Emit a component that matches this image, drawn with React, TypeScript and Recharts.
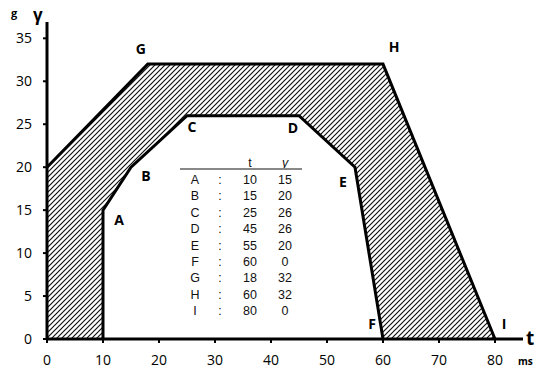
import { ComposedChart, Area, Scatter, XAxis, YAxis } from "recharts";

// corner points, as listed in the table on the chart
const pointNames = ["A", "B", "C", "D", "E", "F", "G", "H", "I"];
const tValues = [10, 15, 25, 45, 55, 60, 18, 60, 80];
const gammaValues = [15, 20, 26, 26, 20, 0, 32, 32, 0];

// unlabelled corners where the two outlines start
const outerStart = { t: 0, g: 20 };
const innerStart = { t: 10, g: 0 };
const outerNames = ["G", "H", "I"];
const innerNames = ["A", "B", "C", "D", "E", "F"];

const xTicks = [0, 10, 20, 30, 40, 50, 60, 70, 80];
const yTicks = [0, 5, 10, 15, 20, 25, 30, 35];

const points = pointNames.map((name, i) => ({ name, t: tValues[i], g: gammaValues[i] }));
const byName = (n: string) => points.find((p) => p.name === n)!;
const outerData = [outerStart, ...outerNames.map(byName)];
const innerData = [innerStart, ...innerNames.map(byName)];

// where each letter sits relative to its corner
const labelOffset: Record<string, [number, number]> = {
  A: [16, 9],
  B: [15, 8],
  C: [5, 11],
  D: [-6, 12],
  E: [-12, 14],
  F: [-11, -16],
  G: [-7, -16],
  H: [11, -18],
  I: [9, -16],
};

const font = "'Open Sans', sans-serif";
const tableFont = "'Liberation Sans', Arial, sans-serif";

const PointLabel = (props: any) => {
  const { cx, cy, payload } = props;
  const [dx, dy] = labelOffset[payload.name];
  return (
    <text
      x={cx + dx}
      y={cy + dy}
      textAnchor="middle"
      dominantBaseline="central"
      fontFamily={font}
      fontWeight={700}
      fontSize={14}
      fill="#000"
    >
      {payload.name}
    </text>
  );
};

const abs = (left: number, top: number, extra: any = {}) => ({
  position: "absolute" as const,
  left,
  top,
  ...extra,
});

function PointTable() {
  const rowTop = 180;
  const rowGap = 16.4;
  const cell = (cx: number, cy: number, text: string | number, key: string, italic = false) => (
    <span
      key={key}
      style={abs(cx - 20, cy - 8, {
        width: 40,
        height: 16,
        lineHeight: "16px",
        textAlign: "center",
        fontStyle: italic ? "italic" : "normal",
      })}
    >
      {text}
    </span>
  );
  return (
    <div style={abs(0, 0, { fontFamily: tableFont, fontSize: 12.5, color: "#111" })}>
      {cell(250, 163, "t", "ht")}
      {cell(285, 163, "γ", "hg", true)}
      <div style={abs(180, 168, { width: 122, height: 0, borderTop: "2px solid #888" })} />
      {points.map((p, i) => (
        <>
          {cell(195, rowTop + i * rowGap, p.name, "n" + i)}
          {cell(220, rowTop + i * rowGap, ":", "c" + i)}
          {cell(250, rowTop + i * rowGap, p.t, "t" + i)}
          {cell(285, rowTop + i * rowGap, p.g, "g" + i)}
        </>
      ))}
    </div>
  );
}

export default function App() {
  return (
    <div style={abs(0, 0, { width: 541, height: 371, background: "#fff" })}>
      <ComposedChart
        width={541}
        height={371}
        margin={{ top: 22, right: 18, bottom: 0, left: 0 }}
      >
        <defs>
          <pattern id="hatch" patternUnits="userSpaceOnUse" width={5} height={5}>
            <path
              d="M0,5 L5,0 M-1.25,1.25 L1.25,-1.25 M3.75,6.25 L6.25,3.75"
              stroke="#111"
              strokeWidth={1.2}
            />
          </pattern>
        </defs>
        <XAxis
          dataKey="t"
          type="number"
          domain={[0, 85]}
          ticks={xTicks}
          height={32}
          axisLine={{ stroke: "#000", strokeWidth: 3 }}
          tickLine={{ stroke: "#000", strokeWidth: 2 }}
          tickSize={4}
          tickMargin={12}
          tick={{ fill: "#000", fontSize: 14, fontFamily: font }}
        />
        <YAxis
          dataKey="g"
          type="number"
          domain={[0, 36.9]}
          ticks={yTicks}
          width={47}
          axisLine={{ stroke: "#000", strokeWidth: 3 }}
          tickLine={{ stroke: "#000", strokeWidth: 2 }}
          tickSize={4}
          tickMargin={11}
          tick={{ fill: "#000", fontSize: 14, fontFamily: font }}
        />
        <Area
          data={outerData}
          dataKey="g"
          type="linear"
          stroke="#000"
          strokeWidth={3}
          fill="url(#hatch)"
          fillOpacity={1}
          isAnimationActive={false}
        />
        <Area
          data={innerData}
          dataKey="g"
          type="linear"
          stroke="#000"
          strokeWidth={3}
          fill="#fff"
          fillOpacity={1}
          isAnimationActive={false}
        />
        <Scatter data={points} dataKey="g" shape={PointLabel} isAnimationActive={false} />
      </ComposedChart>
      <PointTable />
      <span style={abs(11, 5, { fontFamily: font, fontWeight: 700, fontSize: 11 })}>g</span>
      <span style={abs(33, 3, { fontFamily: font, fontWeight: 700, fontSize: 17 })}>γ</span>
      <span style={abs(526, 325, { fontFamily: font, fontWeight: 700, fontSize: 19 })}>t</span>
      <span style={abs(518, 354, { fontFamily: font, fontWeight: 700, fontSize: 10 })}>ms</span>
    </div>
  );
}
